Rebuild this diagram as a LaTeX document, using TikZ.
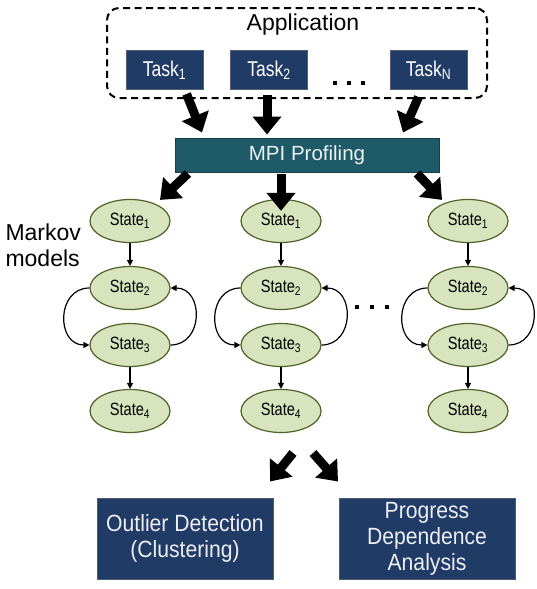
\documentclass[tikz,border=0pt]{standalone}
\usepackage{fontspec}
\setmainfont{Liberation Sans}
\newfontfamily\narrowsans[FakeStretch=0.82]{Liberation Sans}
\newfontfamily\boxsans[FakeStretch=0.9]{Liberation Sans}
\usetikzlibrary{arrows.meta,shapes.geometric}
\definecolor{navy}{HTML}{1F3B66}
\definecolor{tealbox}{HTML}{1F5A69}
\definecolor{stfill}{HTML}{D7E4BD}
\definecolor{stdraw}{HTML}{4F6228}
\begin{document}
\begin{tikzpicture}[x=1pt,y=-1pt,
  taskbox/.style={rectangle, fill=navy, draw=gray!55!navy, line width=1pt,
    minimum width=77pt, minimum height=39pt, inner sep=0pt, text=white,
    font=\narrowsans\fontsize{21.4}{24}\selectfont},
  statenode/.style={ellipse, fill=stfill, draw=stdraw, line width=1.2pt,
    minimum width=80pt, minimum height=43pt, inner sep=0pt,
    font=\narrowsans\fontsize{17.8}{20}\selectfont},
  outbox/.style={rectangle, fill=navy, draw=gray!50!navy, line width=1pt,
    minimum width=176pt, minimum height=81pt, inner sep=0pt, text=white!92!navy,
    align=center, font=\boxsans\fontsize{23.5}{26}\selectfont},
  bigarrow/.style={black, line width=9pt, -{Triangle[length=18pt,width=28pt]}},
  smallarrow/.style={black, line width=1.2pt, -{Triangle[length=6pt,width=6pt]}},
  dotsq/.style={fill=black, inner sep=0pt, minimum size=4.5pt, rectangle}
]
\path[use as bounding box] (0,0) rectangle (536,589);

% application container
\node[draw=black, line width=2pt, dash pattern=on 7pt off 4.5pt, rounded corners=12pt,
      minimum width=380pt, minimum height=90pt, inner sep=0pt] (appbox) at (297,53) {};
\node[font=\fontsize{23}{27}\selectfont] (app) at (303,25) {Application};

\node[taskbox] (t1) at (164.5,70) {Task\textsubscript{1}};
\node[taskbox] (t2) at (269,70) {Task\textsubscript{2}};
\node[taskbox] (tn) at (428.5,70) {Task\textsubscript{N}};
\node[dotsq] (d1) at (335,83) {};
\node[dotsq] (d2) at (349,83) {};
\node[dotsq] (d3) at (363,83) {};

% MPI profiling
\node[rectangle, fill=tealbox, draw=tealbox!70!black, line width=1pt,
      minimum width=264pt, minimum height=34pt, inner sep=0pt, text=white!92!tealbox,
      font=\fontsize{20.5}{24}\selectfont] (mpi) at (307,155) {MPI Profiling};

\draw[bigarrow] ([xshift=22pt,yshift=-4pt]t1.south) -- ([xshift=-105pt,yshift=5pt]mpi.north);
\draw[bigarrow] ([xshift=-2pt,yshift=-5pt]t2.south) -- ([xshift=-40pt,yshift=3pt]mpi.north);
\draw[bigarrow] ([xshift=-10pt,yshift=-7pt]tn.south) -- ([xshift=96pt,yshift=5pt]mpi.north);

% Markov models label
\node[align=left, font=\fontsize{23}{26}\selectfont, anchor=west] (mk) at (2,245) {Markov\\models};

% states
\foreach \c/\x in {a/130, b/281, c/468} {
  \node[statenode] (\c1) at (\x,221) {State\textsubscript{1}};
  \node[statenode] (\c2) at (\x,288) {State\textsubscript{2}};
  \node[statenode] (\c3) at (\x,345) {State\textsubscript{3}};
  \node[statenode] (\c4) at (\x,411) {State\textsubscript{4}};
  \draw[smallarrow] (\c1) -- (\c2);
  \draw[smallarrow] (\c3) -- (\c4);
  \draw[smallarrow] (\c2.west) to[out=180,in=180,looseness=1.5] (\c3.west);
  \draw[smallarrow] (\c3.east) to[out=0,in=0,looseness=1.5] (\c2.east);
}
\node[dotsq] (m1) at (357,307) {};
\node[dotsq] (m2) at (372,307) {};
\node[dotsq] (m3) at (387,307) {};

\draw[bigarrow] ([xshift=-119pt,yshift=-1pt]mpi.south) -- ([xshift=30pt,yshift=-1pt]a1.north);
\draw[bigarrow] ([xshift=-26pt,yshift=-1pt]mpi.south) -- ([yshift=-12pt]b1.north);
\draw[bigarrow] ([xshift=110pt,yshift=-1pt]mpi.south) -- ([xshift=-26pt,yshift=-1pt]c1.north);

% outputs
\node[outbox] (od) at (185,538.5) {Outlier Detection\\(Clustering)};
\node[outbox] (pd) at (427,538.5) {Progress\\Dependence\\Analysis};

\coordinate (bl) at (293,453);
\coordinate (br) at (313,453);
\draw[bigarrow] (bl) -- ([xshift=85pt,yshift=16pt]od.north);
\draw[bigarrow] (br) -- ([xshift=-89pt,yshift=16pt]pd.north);
\end{tikzpicture}
\end{document}
